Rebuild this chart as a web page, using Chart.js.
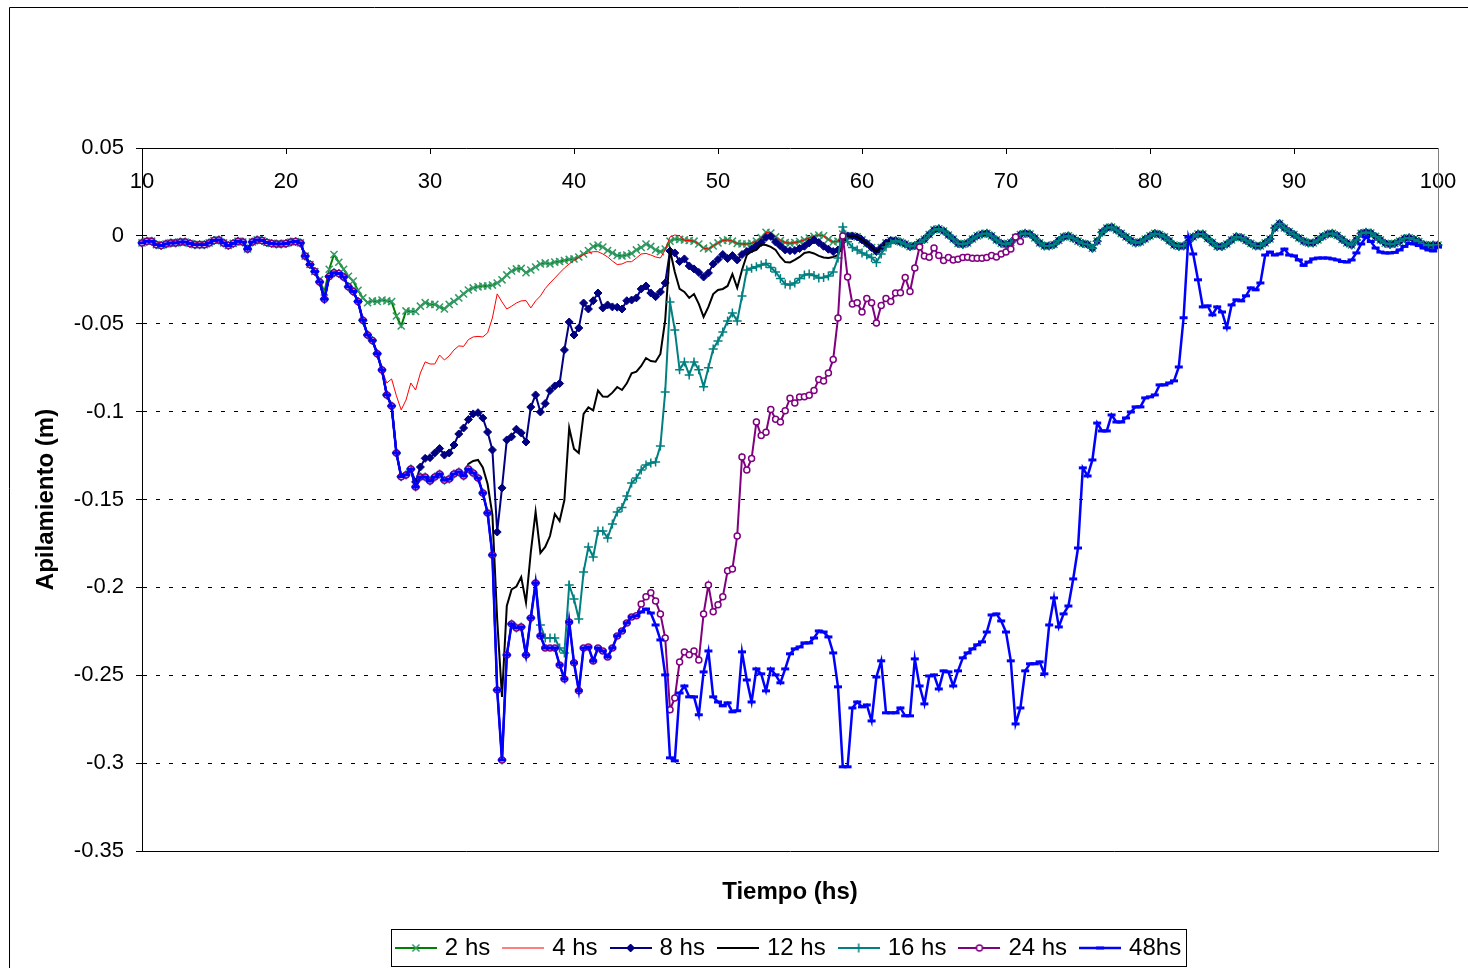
<!DOCTYPE html>
<html>
<head>
<meta charset="utf-8">
<script src="https://cdn.jsdelivr.net/npm/chart.js@4.4.0/dist/chart.umd.min.js"></script>
<style>
  html, body { margin: 0; padding: 0; background: #fff; overflow: hidden; }
  canvas { display: block; }
</style>
</head>
<body>
<canvas id="c" width="1468" height="968"></canvas>
<script>
// ---- sampling of the time axis (one reading every 20 minutes) ----
const TIME_START = 10;
const TIME_STEP = 1 / 3;

const seriesNames = ['2 hs', '4 hs', '8 hs', '12 hs', '16 hs', '24 hs', '48hs'];
const xTickLabels = ['10', '20', '30', '40', '50', '60', '70', '80', '90', '100'];
const yTickLabels = ['0.05', '0', '-0.05', '-0.1', '-0.15', '-0.2', '-0.25', '-0.3', '-0.35'];

// t = 10 .. 22 h : identical for every series
const baseline = [
  -0.004, -0.003, -0.003, -0.005, -0.0055, -0.0046, -0.004, -0.004, -0.0035, -0.0035,
  -0.0043, -0.005, -0.005, -0.005, -0.004, -0.0026, -0.0023, -0.004, -0.0055, -0.0043,
  -0.003, -0.0035, -0.0075, -0.0035, -0.0023, -0.0026, -0.0038, -0.0043, -0.0046, -0.0046,
  -0.0043, -0.0035, -0.0032, -0.004, -0.0115, -0.0163, -0.0203
];

// 2 hs, t = 22.33 .. 45.67
const h2 = [
  -0.025, -0.032, -0.019, -0.0106, -0.015, -0.019, -0.023, -0.0257, -0.031, -0.0353,
  -0.038, -0.037, -0.0373, -0.0365, -0.037, -0.0374, -0.0456, -0.0513, -0.0427, -0.043,
  -0.043, -0.040, -0.038, -0.039, -0.039, -0.0405, -0.0416, -0.039, -0.0373, -0.0353,
  -0.033, -0.0308, -0.0296, -0.029, -0.0285, -0.0285, -0.028, -0.0268, -0.025, -0.0222,
  -0.020, -0.0188, -0.0185, -0.021, -0.0194, -0.0177, -0.016, -0.0154, -0.016, -0.0149,
  -0.0146, -0.014, -0.0134, -0.0131, -0.012, -0.0103, -0.0083, -0.0061, -0.0052, -0.0063,
  -0.0083, -0.0097, -0.0112, -0.0114, -0.0109, -0.01, -0.008, -0.0066, -0.0046, -0.006,
  -0.008
];

// common fall of 4..48 hs, t = 22.33 .. 26.67
const dropAll = [
  -0.0262, -0.036, -0.0231, -0.021, -0.0214, -0.0234, -0.029, -0.0316, -0.0373, -0.048,
  -0.0564, -0.0595, -0.067, -0.0763
];

// 4 hs, t = 27 .. 47.67
const h4 = [
  -0.0837, -0.0814, -0.091, -0.099, -0.0934, -0.0837, -0.0877, -0.078, -0.0717, -0.0729,
  -0.0729, -0.0678, -0.0706, -0.0683, -0.0649, -0.0626, -0.0629, -0.059, -0.0575, -0.0572,
  -0.0575, -0.0552, -0.0467, -0.033, -0.0376, -0.0416, -0.040, -0.0382, -0.037, -0.0368,
  -0.041, -0.037, -0.0342, -0.030, -0.0268, -0.024, -0.0211, -0.0183, -0.016, -0.014,
  -0.0123, -0.0106, -0.0097, -0.009, -0.009, -0.0103, -0.012, -0.0143, -0.0163, -0.016,
  -0.0147, -0.0147, -0.0126, -0.0103, -0.01, -0.0109, -0.012, -0.0126, -0.008, -0.0006,
  0.0005, 0, -0.0027
];

// common fall of 8..48 hs, t = 27 .. 28.67
const dropDeep = [-0.0905, -0.0968, -0.1235, -0.137, -0.136, -0.1327];

// 8 hs, t = 29 .. 58.67
const h8 = [
  -0.140, -0.1315, -0.1266, -0.1262, -0.1235, -0.121, -0.1247, -0.1235, -0.119, -0.1127,
  -0.1093, -0.1045, -0.1013, -0.1006, -0.1036, -0.1116, -0.1218, -0.1685, -0.1434, -0.1161,
  -0.1143, -0.11, -0.1121, -0.1173, -0.0974, -0.0905, -0.1002, -0.0954, -0.088, -0.0854,
  -0.084, -0.0649, -0.049, -0.0564, -0.0524, -0.0382, -0.0416, -0.0369, -0.0325, -0.041,
  -0.0393, -0.0404, -0.0406, -0.0416, -0.0369, -0.0365, -0.0353, -0.0302, -0.0285, -0.0325,
  -0.0346, -0.0319, -0.0268, -0.0086, -0.0097, -0.0146, -0.0131, -0.0171, -0.0188, -0.0208,
  -0.0234, -0.0211, -0.016, -0.0134, -0.0106, -0.0129, -0.0112, -0.0137, -0.0106, -0.0089,
  -0.0075, -0.0057, -0.0038, -0.0009, -0.0003, -0.0035, -0.0057, -0.008, -0.0084, -0.0083,
  -0.0072, -0.0059, -0.004, -0.0023, -0.0038, -0.0059, -0.0076, -0.0089, -0.008, -0.0029
];

// plateau shared by 12..48 hs, t = 29 .. 32.33
const plateau = [
  -0.1429, -0.1372, -0.1372, -0.1395, -0.1372, -0.1355, -0.139, -0.1384, -0.1355, -0.1343,
  -0.1366
];

// 12 hs, t = 32.67 .. 58.67
const h12 = [
  -0.1298, -0.1281, -0.1275, -0.1318, -0.1412, -0.1588, -0.2185, -0.2623, -0.2106, -0.2012,
  -0.1995, -0.1941, -0.2087, -0.1799, -0.157, -0.1804, -0.177, -0.1708, -0.1582, -0.1622,
  -0.1503, -0.1093, -0.1212, -0.1235, -0.1013, -0.0976, -0.0993, -0.088, -0.0914, -0.0915,
  -0.0892, -0.086, -0.0877, -0.0839, -0.0782, -0.0773, -0.074, -0.0695, -0.0712, -0.0716,
  -0.0672, -0.0479, -0.008, -0.0205, -0.0302, -0.0319, -0.0353, -0.0331, -0.0387, -0.0461,
  -0.0404, -0.0331, -0.0308, -0.0302, -0.0285, -0.0217, -0.0296, -0.0194, -0.0109, -0.0089,
  -0.008, -0.0049, -0.0052, -0.0063, -0.008, -0.012, -0.0149, -0.0151, -0.0137, -0.012,
  -0.0097, -0.0092, -0.01, -0.0114, -0.0123, -0.0126, -0.012, -0.0109, -0.0046
];

// trough shared by 16, 24, 48 hs, t = 32.67 .. 37.33
const trough = [
  -0.1327, -0.1349, -0.1378, -0.1463, -0.1577, -0.1816, -0.2584, -0.2982, -0.2385, -0.2208,
  -0.2231, -0.2225, -0.2385, -0.2174, -0.1975
];

// 16 hs, t = 37.67 .. 62
const h16 = [
  -0.2214, -0.2288, -0.2288, -0.2288, -0.2345, -0.2373, -0.1986, -0.2066, -0.218, -0.1912,
  -0.177, -0.1827, -0.1679, -0.1679, -0.1719, -0.1639, -0.1571, -0.1545, -0.148, -0.1406,
  -0.1378, -0.1332, -0.1304, -0.1292, -0.1286, -0.1195, -0.0888, -0.0376, -0.0535, -0.0762,
  -0.0717, -0.0791, -0.0717, -0.0762, -0.0859, -0.0751, -0.0643, -0.0598, -0.0547, -0.0484,
  -0.0439, -0.0484, -0.0342, -0.0194, -0.0184, -0.0175, -0.0166, -0.0157, -0.018, -0.0205,
  -0.0242, -0.0274, -0.0279, -0.0268, -0.0242, -0.0222, -0.0217, -0.0225, -0.024, -0.0237,
  -0.0228, -0.0205, -0.0126, 0.005, -0.0033, -0.0066, -0.008, -0.0097, -0.0109, -0.0123,
  -0.0151, -0.0103, -0.0063, -0.004
];

// low band shared by 24 and 48 hs, t = 37.67 .. 44.33
const lowBand = [
  -0.2276, -0.2345, -0.2345, -0.2345, -0.2441, -0.2521, -0.2197, -0.2429, -0.2588, -0.2345,
  -0.2339, -0.2419, -0.2345, -0.2362, -0.2396, -0.2345, -0.2276, -0.2248, -0.2202, -0.2168,
  -0.2162
];

// 24 hs, t = 44.67 .. 71
const h24 = [
  -0.2094, -0.2054, -0.2031, -0.2077, -0.2151, -0.2288, -0.2697, -0.2629, -0.2424, -0.2367,
  -0.2384, -0.2362, -0.2413, -0.2151, -0.1986, -0.2139, -0.2099, -0.2054, -0.1906, -0.1895,
  -0.1707, -0.1258, -0.1332, -0.1267, -0.1059, -0.1136, -0.1118, -0.0988, -0.1044, -0.1059,
  -0.0995, -0.0924, -0.0951, -0.0917, -0.0915, -0.0907, -0.088, -0.0817, -0.0826, -0.078,
  -0.0703, -0.0467, 0, -0.0234, -0.0387, -0.038, -0.0433, -0.0356, -0.038, -0.0496,
  -0.0396, -0.0356, -0.0374, -0.0325, -0.0323, -0.0237, -0.0317, -0.0183, -0.0063, -0.0114,
  -0.0122, -0.0069, -0.0112, -0.014, -0.0123, -0.0137, -0.0133, -0.0123, -0.0122, -0.0127,
  -0.0127, -0.0127, -0.0123, -0.0112, -0.012, -0.0103, -0.0092, -0.0075, -0.0006, -0.0032
];

// 48 hs, t = 44.67 .. 100
const h48 = [
  -0.214, -0.2123, -0.2146, -0.2214, -0.2299, -0.2498, -0.297, -0.2987, -0.2601, -0.2561,
  -0.2623, -0.2623, -0.2725, -0.2481, -0.2362, -0.2623, -0.2652, -0.2674, -0.2657, -0.2708,
  -0.2702, -0.2367, -0.2527, -0.2652, -0.2464, -0.2492, -0.2589, -0.2464, -0.2498, -0.2543,
  -0.2464, -0.2378, -0.235, -0.2339, -0.2316, -0.2316, -0.2288, -0.2248, -0.2254, -0.2282,
  -0.2373, -0.2566, -0.3021, -0.3021, -0.2686, -0.2652, -0.268, -0.2669, -0.276, -0.251,
  -0.2418, -0.2714, -0.2714, -0.2714, -0.2686, -0.2731, -0.2731, -0.2407, -0.2561, -0.2663,
  -0.2504, -0.2498, -0.2578, -0.2475, -0.2481, -0.2561, -0.2475, -0.2401, -0.2373, -0.235,
  -0.2327, -0.231, -0.2254, -0.2157, -0.2151, -0.2191, -0.2254, -0.2418, -0.2777, -0.2686,
  -0.2475, -0.2435, -0.2435, -0.2424, -0.2492, -0.2214, -0.206, -0.2225, -0.2151, -0.2106,
  -0.1952, -0.1776, -0.132, -0.1366, -0.1275, -0.1065, -0.111, -0.111, -0.1019, -0.1059,
  -0.1059, -0.1036, -0.1002, -0.0973, -0.0973, -0.0922, -0.0916, -0.0905, -0.0848, -0.0848,
  -0.0837, -0.0825, -0.0746, -0.0466, -0.0006, -0.0103, -0.025, -0.0404, -0.0398, -0.045,
  -0.0404, -0.0433, -0.0523, -0.0393, -0.0364, -0.037, -0.0341, -0.0296, -0.0307, -0.0268,
  -0.0109, -0.0092, -0.0109, -0.0103, -0.0075, -0.0109, -0.0114, -0.0137, -0.0168, -0.0149,
  -0.0131, -0.0126, -0.0126, -0.0126, -0.0131, -0.0137, -0.0146, -0.0149, -0.0137, -0.0097,
  -0.0046, -0.0006, -0.0032, -0.0069, -0.0092, -0.0097, -0.0097, -0.0094, -0.008, -0.006,
  -0.0043, -0.0046, -0.0055, -0.0069, -0.008, -0.0086, -0.0063
];

// tidal oscillation followed by the recovered series, t = 46 .. 100
const tide = [
  -0.009, -0.0075, -0.003, -0.0018, -0.002, -0.0023, -0.0026, -0.003, -0.0046, -0.007,
  -0.0075, -0.0057, -0.004, -0.0026, -0.0023, -0.003, -0.0043, -0.0046, -0.0046, -0.0042,
  -0.003, -0.001, 0.002, 0.0016, -0.0006, -0.0026, -0.0038, -0.0042, -0.0038, -0.0032,
  -0.0023, -0.0012, -0.0003, 0.0005, 0, -0.002, -0.0035, -0.003, 0.001, 0,
  0, -0.0006, -0.0023, -0.0043, -0.0066, -0.0089, -0.0066, -0.004, -0.0026, -0.0026,
  -0.0035, -0.0046, -0.0061, -0.0055, -0.0038, -0.002, 0.0008, 0.0034, 0.004, 0.0028,
  0.0005, -0.0018, -0.0043, -0.0049, -0.004, -0.0018, 0, 0.001, 0.0015, 0,
  -0.0023, -0.0042, -0.0049, -0.0038, -0.001, 0.0008, 0.0015, 0.001, -0.0012, -0.004,
  -0.0057, -0.0057, -0.0049, -0.0026, -0.0006, 0, -0.0014, -0.003, -0.0043, -0.0049,
  -0.007, -0.003, 0.002, 0.0045, 0.005, 0.0034, 0.0014, -0.0006, -0.0026, -0.004,
  -0.0035, -0.0018, 0, 0.0014, 0.0008, -0.0006, -0.0028, -0.0052, -0.006, -0.0057,
  -0.0032, -0.0006, 0.001, 0.001, -0.0015, -0.0038, -0.006, -0.006, -0.0046, -0.0023,
  -0.0005, -0.001, -0.0026, -0.0043, -0.0057, -0.0057, -0.004, -0.0018, 0.0045, 0.007,
  0.0045, 0.0025, 0.0008, -0.0012, -0.003, -0.004, -0.004, -0.0023, -0.0003, 0.001,
  0.0015, 0.0002, -0.002, -0.004, -0.0052, -0.0023, 0.0014, 0.002, 0.0016, -0.0003,
  -0.0023, -0.0042, -0.0049, -0.0043, -0.003, -0.0015, -0.0011, -0.002, -0.0032, -0.0049,
  -0.0055, -0.0052, -0.0052
];

// ---- assemble each series from its segments ----
const seriesValues = [
  baseline.concat(h2, tide),
  baseline.concat(dropAll, h4, tide.slice(6)),
  baseline.concat(dropAll, dropDeep, h8, tide.slice(39)),
  baseline.concat(dropAll, dropDeep, plateau, h12, tide.slice(39)),
  baseline.concat(dropAll, dropDeep, plateau, trough, h16, tide.slice(49)),
  baseline.concat(dropAll, dropDeep, plateau, trough, lowBand, h24),
  baseline.concat(dropAll, dropDeep, plateau, trough, lowBand, h48)
];

// ---- styles ----
const FONT = "'Liberation Sans', Arial, Helvetica, sans-serif";
const styles = [
  { color: '#008000', lineWidth: 2,   pointStyle: 'crossRot', radius: 5,   pointBorder: '#339966', pointFill: '#339966', pointWidth: 1.5, order: 6 },
  { color: '#FF0000', lineWidth: 1,   pointStyle: 'circle',   radius: 0,   pointBorder: '#FF0000', pointFill: '#FF0000', pointWidth: 1,   order: 5 },
  { color: '#000080', lineWidth: 2,   pointStyle: 'rectRot',  radius: 4,   pointBorder: '#000080', pointFill: '#000080', pointWidth: 1,   order: 4 },
  { color: '#000000', lineWidth: 2,   pointStyle: 'circle',   radius: 0,   pointBorder: '#000000', pointFill: '#000000', pointWidth: 1,   order: 3 },
  { color: '#008080', lineWidth: 2,   pointStyle: 'cross',    radius: 4.5, pointBorder: '#008080', pointFill: '#008080', pointWidth: 1.5, order: 2 },
  { color: '#800080', lineWidth: 2,   pointStyle: 'circle',   radius: 3,   pointBorder: '#800080', pointFill: '#FFFFFF', pointWidth: 1.5, order: 1 },
  { color: '#0000FF', lineWidth: 2.5, pointStyle: 'line',     radius: 4,   pointBorder: '#0000FF', pointFill: '#0000FF', pointWidth: 3,   order: 0 }
];

const ICON_W = 42, LEGEND_BOX_W = 34;
function makeIcon(st) {
  const c = document.createElement('canvas');
  c.width = ICON_W; c.height = 14;
  const g = c.getContext('2d');
  g.strokeStyle = st.color; g.lineWidth = st.lineWidth;
  g.beginPath(); g.moveTo(0, 7); g.lineTo(ICON_W, 7); g.stroke();
  if (st.radius > 0) {
    const x = ICON_W / 2, y = 7, r = st.radius;
    g.strokeStyle = st.pointBorder; g.fillStyle = st.pointFill; g.lineWidth = st.pointWidth;
    g.beginPath();
    if (st.pointStyle === 'crossRot') {
      const d = r * Math.SQRT1_2;
      g.moveTo(x - d, y - d); g.lineTo(x + d, y + d); g.moveTo(x - d, y + d); g.lineTo(x + d, y - d); g.stroke();
    } else if (st.pointStyle === 'cross') {
      g.moveTo(x - r, y); g.lineTo(x + r, y); g.moveTo(x, y - r); g.lineTo(x, y + r); g.stroke();
    } else if (st.pointStyle === 'rectRot') {
      g.moveTo(x, y - r); g.lineTo(x + r, y); g.lineTo(x, y + r); g.lineTo(x - r, y); g.closePath(); g.fill(); g.stroke();
    } else if (st.pointStyle === 'circle') {
      g.arc(x, y, r, 0, Math.PI * 2); g.fill(); g.stroke();
    } else if (st.pointStyle === 'line') {
      g.moveTo(x - r, y); g.lineTo(x + r, y); g.stroke();
    }
  }
  return c;
}
const legendIcons = styles.map(makeIcon);

const datasets = seriesNames.map((name, k) => {
  const st = styles[k];
  return {
    label: name,
    data: seriesValues[k].map((v, i) => ({ x: TIME_START + i * TIME_STEP, y: v })),
    xAxisID: 'x', yAxisID: 'y',
    borderColor: st.color, backgroundColor: st.color, borderWidth: st.lineWidth,
    pointStyle: st.pointStyle, pointRadius: st.radius, pointHoverRadius: st.radius,
    pointBorderColor: st.pointBorder, pointBackgroundColor: st.pointFill, pointBorderWidth: st.pointWidth,
    tension: 0, fill: false, clip: false, order: st.order
  };
});

const isEdge = (v) => Math.abs(v - 0.05) < 1e-6 || Math.abs(v + 0.35) < 1e-6;

const framePlugin = {
  id: 'excelFrame',
  beforeDraw(chart) {
    const { ctx, width, height } = chart;
    ctx.save();
    ctx.fillStyle = '#fff'; ctx.fillRect(0, 0, width, height);
    ctx.strokeStyle = '#000'; ctx.lineWidth = 1;
    ctx.beginPath(); ctx.moveTo(9.5, height + 5); ctx.lineTo(9.5, 7.5); ctx.lineTo(width + 5, 7.5); ctx.stroke();
    ctx.restore();
  },
  afterDraw(chart) {
    const { ctx, chartArea: a } = chart;
    ctx.save();
    ctx.strokeStyle = '#808080'; ctx.lineWidth = 1;
    const rx = Math.round(a.right) + 0.5;
    ctx.beginPath(); ctx.moveTo(rx, a.top); ctx.lineTo(rx, a.bottom); ctx.stroke();
    const lg = chart.legend;
    if (lg && lg.legendHitBoxes && lg.legendHitBoxes.length) {
      const hb = lg.legendHitBoxes;
      let l = Infinity, r = -Infinity;
      hb.forEach(h => { l = Math.min(l, h.left); r = Math.max(r, h.left + h.width); });
      const cy = hb[0].top + hb[0].height / 2;
      const left = Math.round(l - (ICON_W - LEGEND_BOX_W) / 2 - 4);
      ctx.strokeStyle = '#000'; ctx.lineWidth = 1;
      ctx.strokeRect(left + 0.5, Math.round(cy - 19) + 0.5, Math.round(r + 5 - left), 37);
    }
    ctx.restore();
  }
};

new Chart(document.getElementById('c'), {
  type: 'line',
  data: { datasets },
  options: {
    responsive: false,
    animation: false,
    devicePixelRatio: 1,
    events: [],
    layout: { padding: { left: 20, right: 30, top: 148, bottom: -2 } },
    plugins: {
      tooltip: { enabled: false },
      legend: {
        display: true,
        position: 'bottom',
        fullSize: false,
        align: 'center',
        labels: {
          usePointStyle: true,
          pointStyleWidth: LEGEND_BOX_W,
          boxHeight: 14,
          padding: 16,
          color: '#000',
          font: { family: FONT, size: 24 },
          generateLabels: (chart) => chart.data.datasets.map((ds, i) => ({
            text: ds.label, datasetIndex: i, pointStyle: legendIcons[i],
            fillStyle: 'rgba(0,0,0,0)', strokeStyle: 'rgba(0,0,0,0)', lineWidth: 0,
            hidden: false, fontColor: '#000'
          }))
        }
      }
    },
    scales: {
      x: {
        type: 'linear', axis: 'x', position: 'bottom', min: 10, max: 100,
        ticks: { display: false },
        grid: { display: false },
        border: { display: true, color: '#000', width: 1 },
        title: { display: true, text: 'Tiempo (hs)', color: '#000',
                 font: { family: FONT, size: 24, weight: 'bold' }, padding: { top: 0, bottom: 13 } },
        afterFit: (s) => { s.height = 69; s.paddingLeft = 0; s.paddingRight = 0; }
      },
      xTop: {
        type: 'linear', axis: 'x', position: { y: 0.05 }, min: 10, max: 100,
        ticks: { stepSize: 10, autoSkip: false, maxRotation: 0, color: '#000', padding: 16,
                 font: { family: FONT, size: 22 },
                 callback: (v) => xTickLabels[Math.round((v - 10) / 10)] },
        grid: { drawOnChartArea: false, drawTicks: true, tickLength: 5, tickColor: '#000', tickWidth: 1 },
        border: { display: true, color: '#000', width: 1 },
        afterFit: (s) => { s.height = 0; s.paddingLeft = 0; s.paddingRight = 0; }
      },
      y: {
        type: 'linear', position: 'left', min: -0.35, max: 0.05,
        ticks: { stepSize: 0.05, color: '#000', padding: 12, font: { family: FONT, size: 22 },
                 callback: (v) => yTickLabels[Math.round((0.05 - v) / 0.05)] },
        grid: {
          color: (c) => (c.tick && isEdge(c.tick.value)) ? 'rgba(0,0,0,0)' : '#000',
          lineWidth: 1, drawTicks: true, tickLength: 6, tickColor: '#000', tickWidth: 1, tickBorderDash: []
        },
        border: { display: true, color: '#000', width: 1, dash: [4, 9] },
        title: { display: true, text: 'Apilamiento (m)', color: '#000',
                 font: { family: FONT, size: 24, weight: 'bold' }, padding: { top: 12, bottom: 0 } },
        afterFit: (s) => { s.width = 122; }
      }
    }
  },
  plugins: [framePlugin]
});
</script>
</body>
</html>
